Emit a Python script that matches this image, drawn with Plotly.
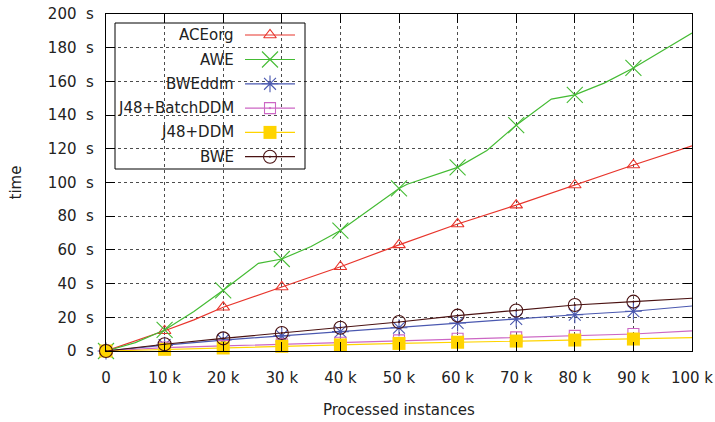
import plotly.graph_objects as go

# ---- data (x in instances, y in seconds) ----
mark_x = [0, 10000, 20000, 30000, 40000, 50000, 60000, 70000, 80000, 90000]

ace_x = [0, 10000, 15000, 20000, 30000, 40000, 50000, 60000, 70000, 80000, 90000, 100000]
ace_y = [0, 12, 18.5, 26, 38, 50, 63, 75.4, 86.6, 98.5, 110.4, 121.7]

awe_x = [0, 5000, 10000, 15000, 20000, 26000, 30000, 35000, 40000, 50000, 51400,
         60000, 65000, 70000, 76000, 80000, 85000, 90000, 100000]
awe_y = [0, 5, 12.5, 23.5, 36, 52, 54.6, 62, 71.5, 96.5, 99,
         109, 119, 134, 149.5, 152, 159, 168, 188.7]

bweddm_x = [0, 10000, 20000, 30000, 40000, 50000, 60000, 70000, 80000, 90000, 100000]
bweddm_y = [0, 3.5, 6.5, 9.0, 11.5, 13.8, 16.6, 19.0, 21.5, 23.6, 26.7]

batch_x = [0, 10000, 20000, 30000, 40000, 50000, 60000, 70000, 80000, 90000, 100000]
batch_y = [0, 2.0, 3.0, 4.0, 4.9, 6.3, 7.3, 8.1, 9.0, 10.1, 11.9]

ddm_x = [0, 10000, 20000, 30000, 40000, 50000, 60000, 70000, 80000, 90000, 100000]
ddm_y = [0, 1.0, 1.8, 2.8, 3.6, 4.5, 5.2, 5.9, 6.5, 7.1, 7.9]

bwe_x = [0, 10000, 20000, 30000, 40000, 50000, 60000, 70000, 80000, 90000, 100000]
bwe_y = [0, 4.0, 7.5, 10.7, 13.8, 17.2, 21.0, 24.0, 27.3, 29.3, 31.3]

x_tickvals = [0, 10000, 20000, 30000, 40000, 50000, 60000, 70000, 80000, 90000, 100000]
x_ticktext = ["0", "10 k", "20 k", "30 k", "40 k", "50 k", "60 k", "70 k", "80 k", "90 k", "100 k"]
y_tickvals = [0, 20, 40, 60, 80, 100, 120, 140, 160, 180, 200]
y_ticktext = [f"{v}\u00a0\u00a0s" for v in y_tickvals]

series = [
    ("ACEorg", ace_x, ace_y, "#e8352c", dict(symbol="triangle-up-open", size=11, line=dict(width=1.1))),
    ("AWE", awe_x, awe_y, "#44bb33", dict(symbol="x-thin-open", size=16, line=dict(width=1.1))),
    ("BWEddm", bweddm_x, bweddm_y, "#4a58b0", dict(symbol="asterisk-open", size=14, line=dict(width=1.1))),
    ("J48+BatchDDM", batch_x, batch_y, "#cc66c4", dict(symbol="square-open-dot", size=11, line=dict(width=1.1))),
    ("J48+DDM", ddm_x, ddm_y, "#ffd400", dict(symbol="square", size=13, line=dict(width=0))),
    ("BWE", bwe_x, bwe_y, "#4a1212", dict(symbol="circle-open-dot", size=13, line=dict(width=1.1))),
]

FONT = "DejaVu Sans"
W, H = 715, 422
L, R, T, B = 106, 23, 14, 71
pw, ph = W - L - R, H - T - B

fig = go.Figure()

for name, xs, ys, col, mk in series:
    fig.add_trace(go.Scatter(x=xs, y=ys, mode="lines", line=dict(color=col, width=1.2),
                             showlegend=False, hoverinfo="skip"))
    mx = [x for x in xs if x in mark_x]
    my = [y for x, y in zip(xs, ys) if x in mark_x]
    m = dict(mk)
    m["color"] = col
    m["line"] = dict(color=col, width=mk["line"]["width"])
    fig.add_trace(go.Scatter(x=mx, y=my, mode="markers", marker=m, cliponaxis=False,
                             showlegend=False, name=name))

# ---- custom gnuplot-style key (text left, sample right) ----
def px2paper_x(px):
    return (px - L) / pw

def px2paper_y(py):
    return (T + ph - py) / ph

row_py = [35, 59.5, 83.8, 108.1, 132.4, 156.7]
shapes = [dict(type="rect", xref="paper", yref="paper",
               x0=px2paper_x(115), x1=px2paper_x(305), y0=px2paper_y(169), y1=px2paper_y(23),
               line=dict(color="black", width=1), fillcolor="white", layer="between")]
annotations = []
for (name, xs, ys, col, mk), py in zip(series, row_py):
    yy = px2paper_y(py)
    annotations.append(dict(text=name, xref="paper", yref="paper", x=px2paper_x(236), y=yy,
                            xanchor="right", yanchor="middle", showarrow=False,
                            font=dict(family=FONT, size=15, color="#222")))
    fig.add_trace(go.Scatter(x=[px2paper_x(245), px2paper_x(295)], y=[yy, yy], xaxis="x2", yaxis="y2",
                             mode="lines", line=dict(color=col, width=1.2), showlegend=False,
                             hoverinfo="skip"))
    m = dict(mk)
    m["color"] = col
    m["line"] = dict(color=col, width=mk["line"]["width"])
    fig.add_trace(go.Scatter(x=[px2paper_x(270)], y=[yy], xaxis="x2", yaxis="y2",
                             mode="markers", marker=m, showlegend=False, hoverinfo="skip"))

annotations.append(dict(text="Processed instances", xref="paper", yref="paper", x=0.5,
                        y=px2paper_y(410), xanchor="center", yanchor="middle", showarrow=False,
                        font=dict(family=FONT, size=15, color="#222")))
annotations.append(dict(text="time", xref="paper", yref="paper", x=px2paper_x(15),
                        y=0.5, xanchor="center", yanchor="middle", showarrow=False, textangle=-90,
                        font=dict(family=FONT, size=15, color="#222")))

axis_common = dict(showline=True, linecolor="black", linewidth=1.3, mirror="ticks",
                   ticks="inside", ticklen=9, tickcolor="black", tickwidth=1,
                   showgrid=True, gridcolor="rgba(0,0,0,0.7)", griddash="dot", gridwidth=1,
                   zeroline=False, automargin=False,
                   tickfont=dict(family=FONT, size=15, color="#222"))

fig.update_layout(
    width=W, height=H,
    margin=dict(l=L, r=R, t=T, b=B, autoexpand=False),
    paper_bgcolor="white", plot_bgcolor="white",
    showlegend=False,
    font=dict(family=FONT, size=15, color="#222"),
    xaxis=dict(range=[0, 100000], tickmode="array", tickvals=x_tickvals, ticktext=x_ticktext,
               ticklabelstandoff=13, **axis_common),
    yaxis=dict(range=[0, 200], tickmode="array", tickvals=y_tickvals, ticktext=y_ticktext,
               ticklabelstandoff=8, **axis_common),
    xaxis2=dict(range=[0, 1], overlaying="x", visible=False, fixedrange=True, automargin=False),
    yaxis2=dict(range=[0, 1], overlaying="y", visible=False, fixedrange=True, automargin=False),
    shapes=shapes,
    annotations=annotations,
)

fig.write_html("out.html")
